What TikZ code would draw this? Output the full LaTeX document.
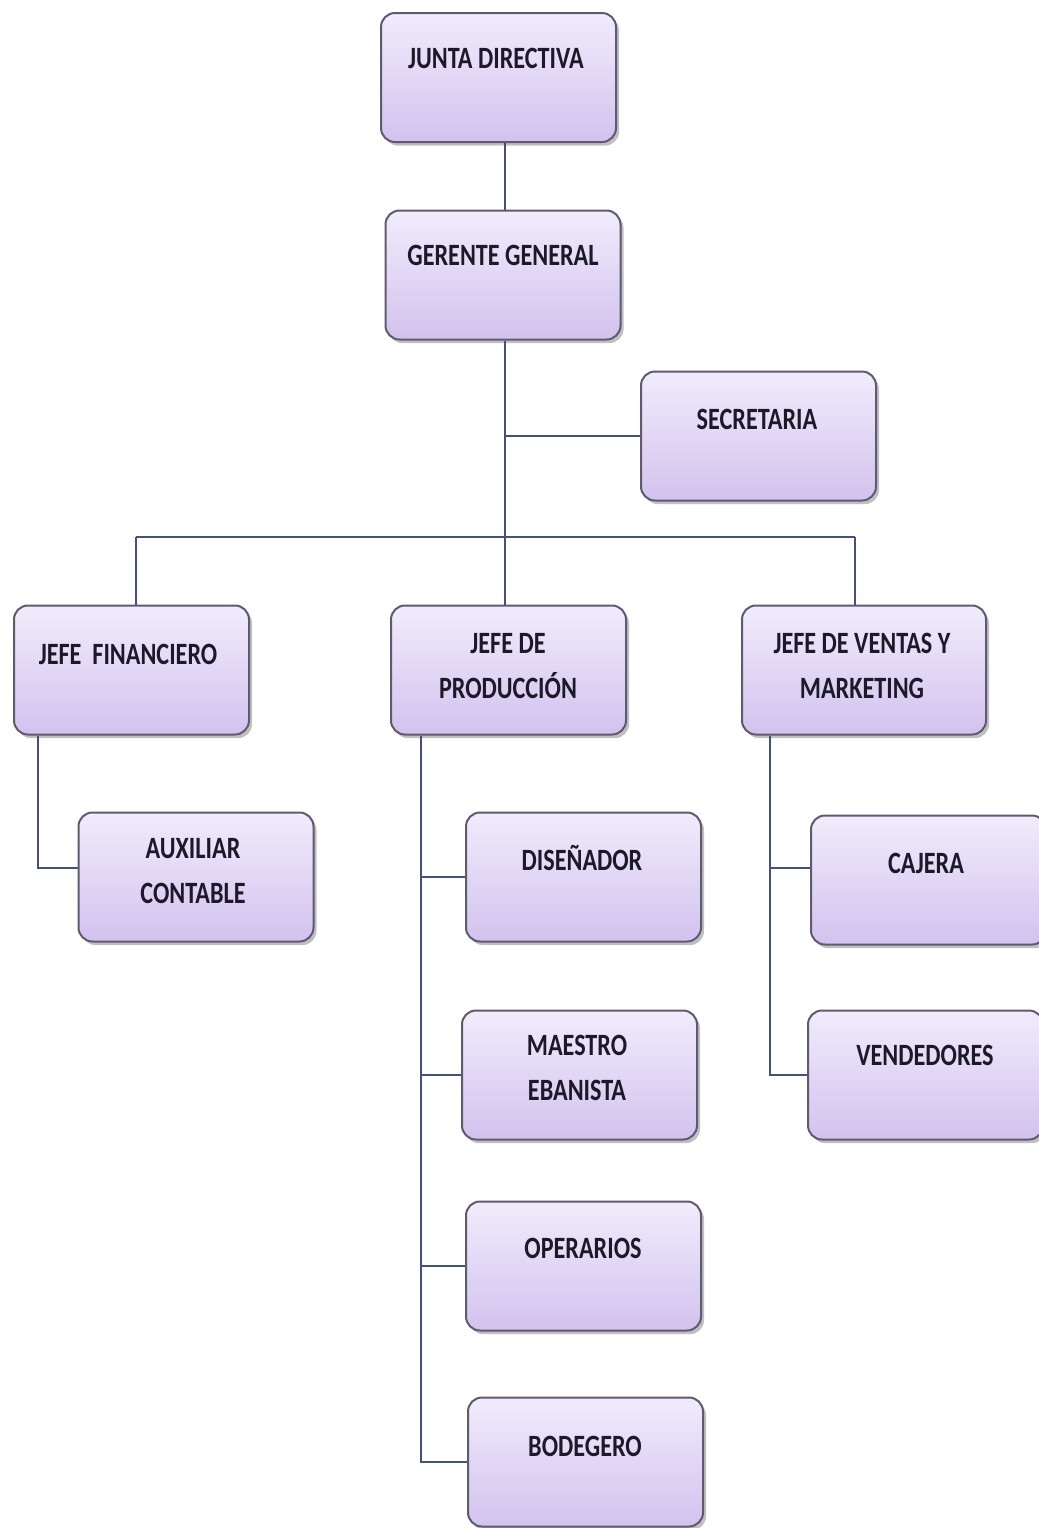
\documentclass[tikz,border=0pt]{standalone}
\usepackage{fontspec}
\setmainfont{Carlito}[FakeStretch=0.78]
\usetikzlibrary{shadows}
\definecolor{boxtop}{RGB}{241,236,252}
\definecolor{boxbot}{RGB}{210,194,238}
\definecolor{boxline}{RGB}{96,90,112}
\definecolor{conncol}{RGB}{70,80,125}
\definecolor{txtcol}{RGB}{28,26,40}
\begin{document}
\begin{tikzpicture}[x=0.5pt,y=-0.5pt,
 box/.style={draw=boxline, line width=1pt, rounded corners=7pt, top color=boxtop, bottom color=boxbot,
   minimum width=117.5pt, minimum height=64.5pt, inner sep=0pt,
   drop shadow={shadow xshift=1.5pt, shadow yshift=-1.8pt, opacity=0.35, fill=black!70}},
 lbl/.style={font=\bfseries\fontsize{15.5}{22.5}\selectfont, text=txtcol, align=center,
   text height=10pt, text depth=0pt, inner sep=0pt},
 conn/.style={draw=conncol, line width=1pt}]
\clip (0,0) rectangle (1039,1528);
\fill[white] (0,0) rectangle (1039,1528);

% boxes
\node[box] (jd) at (498.5,77.5) {};
\node[box] (gg) at (503,275) {};
\node[box] (sec) at (758.5,436) {};
\node[box] (jf) at (131.5,670) {};
\node[box] (jp) at (508.5,670) {};
\node[box, minimum width=122pt] (jv) at (864,670) {};
\node[box] (aux) at (196,877) {};
\node[box] (dis) at (583.5,877) {};
\node[box] (mae) at (579.5,1075) {};
\node[box] (ope) at (583.5,1266) {};
\node[box] (bod) at (585.5,1462) {};
\node[box] (caj) at (928.5,880) {};
\node[box] (ven) at (925.5,1075) {};

% labels
\node[lbl] (jd-t) at (496,58) {JUNTA DIRECTIVA};
\node[lbl] (gg-t) at (503,255) {GERENTE GENERAL};
\node[lbl] (sec-t) at (757,419) {SECRETARIA};
\node[lbl] (jf-t) at (128,654) {JEFE\ \ FINANCIERO};
\node[lbl] (jp-t) at (508,688) {JEFE DE\\PRODUCCIÓN};
\node[lbl] (jv-t) at (862,688) {JEFE DE VENTAS Y\\MARKETING};
\node[lbl] (aux-t) at (193,893) {AUXILIAR\\CONTABLE};
\node[lbl] (dis-t) at (582,860) {DISEÑADOR};
\node[lbl] (mae-t) at (577,1090) {MAESTRO\\EBANISTA};
\node[lbl] (ope-t) at (583,1248) {OPERARIOS};
\node[lbl] (bod-t) at (585,1446) {BODEGERO};
\node[lbl] (caj-t) at (926,863) {CAJERA};
\node[lbl] (ven-t) at (925,1055) {VENDEDORES};

% connectors
\coordinate (busL) at (136,537);
\coordinate (busM) at (505,537);
\coordinate (busR) at (855,537);
\coordinate (jfv) at (38,735);
\coordinate (jpv) at (421,735);
\coordinate (jvv) at (770,735);

\draw[conn] (busM |- jd.south) -- (busM |- gg.north);
\draw[conn] (busM |- gg.south) -- (busM);
\draw[conn] (busM |- sec.west) -- (sec.west);
\draw[conn] (busL) -- (busR);
\draw[conn] (busL) -- (busL |- jf.north);
\draw[conn] (busM) -- (busM |- jp.north);
\draw[conn] (busR) -- (busR |- jv.north);

\draw[conn] (jfv |- jf.south) |- ([yshift=4.5pt]aux.west);

\draw[conn] (jpv |- jp.south) |- (bod.west);
\draw[conn] (jpv |- dis.west) -- (dis.west);
\draw[conn] (jpv |- mae.west) -- (mae.west);
\draw[conn] (jpv |- ope.west) -- (ope.west);

\draw[conn] (jvv |- jv.south) |- (ven.west);
\draw[conn] (jvv |- caj.west) ++(0,-12) -- ([yshift=6pt]caj.west);
\end{tikzpicture}
\end{document}
